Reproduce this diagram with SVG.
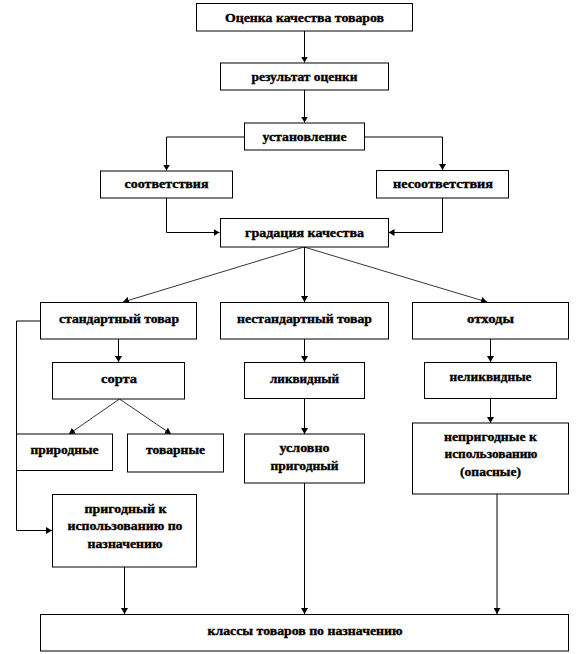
<svg xmlns="http://www.w3.org/2000/svg" width="588" height="654" viewBox="0 0 588 654">
<style>
.box{fill:#fff;stroke:#000;stroke-width:1}
.t{font-family:"Liberation Serif","DejaVu Serif",serif;font-weight:bold;font-size:13px;fill:#000;stroke:#000;stroke-width:0.35;text-anchor:middle}
.c{fill:none;stroke:#000;stroke-width:1}
.d{fill:none;stroke:#000;stroke-width:0.8}
</style>
<defs>
<marker id="ah" markerWidth="7" markerHeight="7" refX="6" refY="3.5" orient="auto" markerUnits="userSpaceOnUse">
<path d="M0,0 L6,3.5 L0,7 Z" fill="#000"/>
</marker>
</defs>
<rect width="588" height="654" fill="#fff"/>
<g id="connectors">
<line class="c" x1="304.5" y1="31" x2="304.5" y2="62.5" marker-end="url(#ah)"/>
<line class="c" x1="304.5" y1="90" x2="304.5" y2="122.5" marker-end="url(#ah)"/>
<polyline class="c" points="244,137 166.5,137 166.5,170.5" marker-end="url(#ah)"/>
<polyline class="c" points="364,137 442.5,137 442.5,170" marker-end="url(#ah)"/>
<polyline class="c" points="166.5,198 166.5,232.5 219.5,232.5" marker-end="url(#ah)"/>
<polyline class="c" points="442.5,198 442.5,232.5 388.5,232.5" marker-end="url(#ah)"/>
<line class="d" x1="304" y1="247" x2="123" y2="302" marker-end="url(#ah)"/>
<line class="c" x1="304.5" y1="247" x2="304.5" y2="302" marker-end="url(#ah)"/>
<line class="d" x1="304" y1="247" x2="487" y2="302" marker-end="url(#ah)"/>
<line class="c" x1="118.5" y1="339" x2="118.5" y2="362" marker-end="url(#ah)"/>
<polyline class="c" points="41,321 16.5,321 16.5,530.5 52,530.5" marker-end="url(#ah)"/>
<line class="d" x1="119.5" y1="399" x2="69" y2="434" marker-end="url(#ah)"/>
<line class="d" x1="119.5" y1="399" x2="171" y2="434" marker-end="url(#ah)"/>
<line class="c" x1="304.5" y1="339" x2="304.5" y2="362" marker-end="url(#ah)"/>
<line class="c" x1="304.5" y1="398" x2="304.5" y2="434" marker-end="url(#ah)"/>
<line class="c" x1="304.5" y1="483" x2="304.5" y2="614" marker-end="url(#ah)"/>
<line class="c" x1="490.5" y1="339" x2="490.5" y2="362" marker-end="url(#ah)"/>
<line class="c" x1="490.5" y1="398" x2="490.5" y2="423" marker-end="url(#ah)"/>
<line class="c" x1="497" y1="494" x2="497" y2="614" marker-end="url(#ah)"/>
<line class="c" x1="124.5" y1="567" x2="124.5" y2="614" marker-end="url(#ah)"/>
</g>
<g id="n1"><rect class="box" x="196.5" y="3.5" width="216" height="27.5"/><text class="t" x="304.5" y="22" textLength="159" lengthAdjust="spacingAndGlyphs">Оценка качества товаров</text></g>
<g id="n2"><rect class="box" x="220.5" y="63" width="168" height="27"/><text class="t" x="304.5" y="81" textLength="106" lengthAdjust="spacingAndGlyphs">результат оценки</text></g>
<g id="n3"><rect class="box" x="244.5" y="123" width="120" height="27"/><text class="t" x="304.5" y="140.5" textLength="84" lengthAdjust="spacingAndGlyphs">установление</text></g>
<g id="n4"><rect class="box" x="100.5" y="171" width="132" height="27"/><text class="t" x="166.5" y="188" textLength="84" lengthAdjust="spacingAndGlyphs">соответствия</text></g>
<g id="n5"><rect class="box" x="376.5" y="170.5" width="132" height="27.5"/><text class="t" x="443" y="187.5" textLength="100" lengthAdjust="spacingAndGlyphs">несоответствия</text></g>
<g id="n6"><rect class="box" x="220.5" y="218.5" width="168" height="28.5"/><text class="t" x="304.5" y="236.5" textLength="119" lengthAdjust="spacingAndGlyphs">градация качества</text></g>
<g id="n7"><rect class="box" x="40.5" y="302.5" width="156" height="36.5"/><text class="t" x="119" y="322.5" textLength="120" lengthAdjust="spacingAndGlyphs">стандартный товар</text></g>
<g id="n8"><rect class="box" x="220.5" y="302.5" width="168" height="36.5"/><text class="t" x="304.5" y="322.5" textLength="135" lengthAdjust="spacingAndGlyphs">нестандартный товар</text></g>
<g id="n9"><rect class="box" x="412.5" y="302.5" width="156" height="36.5"/><text class="t" x="490.5" y="322.5" textLength="47" lengthAdjust="spacingAndGlyphs">отходы</text></g>
<g id="n10"><rect class="box" x="52.5" y="362.5" width="132" height="36.5"/><text class="t" x="119" y="382.5" textLength="36" lengthAdjust="spacingAndGlyphs">сорта</text></g>
<g id="n11"><rect class="box" x="244.5" y="362.5" width="120" height="36"/><text class="t" x="304.5" y="382.5" textLength="69" lengthAdjust="spacingAndGlyphs">ликвидный</text></g>
<g id="n12"><rect class="box" x="424.5" y="362.5" width="132" height="36"/><text class="t" x="490.5" y="381" textLength="82" lengthAdjust="spacingAndGlyphs">неликвидные</text></g>
<g id="n13"><rect class="box" x="16.5" y="434" width="96" height="36.5"/><text class="t" x="64.5" y="454" textLength="68" lengthAdjust="spacingAndGlyphs">природные</text></g>
<g id="n14"><rect class="box" x="127.5" y="434" width="96" height="38"/><text class="t" x="175.5" y="454" textLength="59" lengthAdjust="spacingAndGlyphs">товарные</text></g>
<g id="n15"><rect class="box" x="244.5" y="434" width="120" height="49"/><text class="t" x="304.5" y="452" textLength="50" lengthAdjust="spacingAndGlyphs">условно</text><text class="t" x="304.5" y="470" textLength="68" lengthAdjust="spacingAndGlyphs">пригодный</text></g>
<g id="n16"><rect class="box" x="412.5" y="423" width="156" height="71"/><text class="t" x="490.5" y="441" textLength="93" lengthAdjust="spacingAndGlyphs">непригодные к</text><text class="t" x="491" y="458" textLength="93" lengthAdjust="spacingAndGlyphs">использованию</text><text class="t" x="490.5" y="476" textLength="61" lengthAdjust="spacingAndGlyphs">(опасные)</text></g>
<g id="n17"><rect class="box" x="52.5" y="494.5" width="144" height="72.5"/><text class="t" x="125.5" y="512.5" textLength="82" lengthAdjust="spacingAndGlyphs">пригодный к</text><text class="t" x="125" y="529.5" textLength="115" lengthAdjust="spacingAndGlyphs">использованию по</text><text class="t" x="125" y="547.5" textLength="75" lengthAdjust="spacingAndGlyphs">назначению</text></g>
<g id="n18"><rect class="box" x="40.5" y="614.5" width="528" height="36.5"/><text class="t" x="305" y="634.5" textLength="195" lengthAdjust="spacingAndGlyphs">классы товаров по назначению</text></g>
</svg>
